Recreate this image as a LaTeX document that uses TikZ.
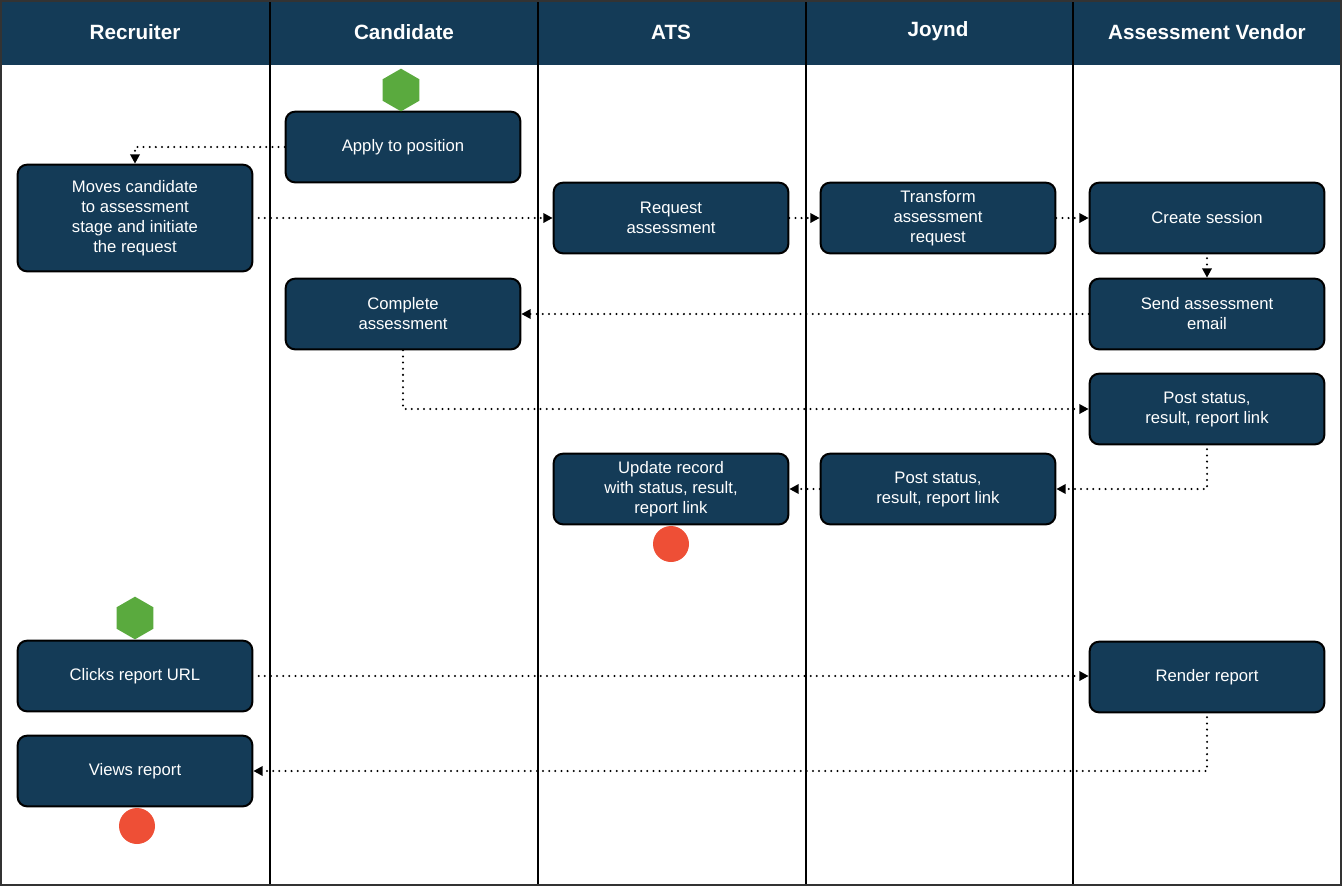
\documentclass[tikz,border=0pt]{standalone}
\usepackage{fontspec}
\setmainfont{Liberation Sans}
\usetikzlibrary{arrows.meta,shapes.geometric}
\definecolor{navy}{HTML}{143B57}
\definecolor{startgreen}{HTML}{5AAA3E}
\definecolor{endred}{HTML}{EE4F36}
\tikzset{
  box/.style={draw=black, line width=1.5pt, fill=navy, rounded corners=7pt,
    minimum width=176pt, minimum height=53pt, inner sep=0pt, align=center,
    text=white, font=\fontsize{12.5}{15}\selectfont},
  tallbox/.style={box, minimum height=80pt},
  lanehead/.style={text=white, font=\fontsize{15.5}{18}\selectfont\bfseries},
  starthex/.style={regular polygon, regular polygon sides=6, shape border rotate=30,
    fill=startgreen, draw=none, minimum size=32pt, inner sep=0pt},
  endcirc/.style={circle, fill=endred, draw=none, minimum size=27pt, inner sep=0pt},
  flow/.style={line width=1.7pt, line cap=round, dash pattern=on 0pt off 4.6pt,
    -{Triangle[length=7pt,width=7pt]}},
  laneline/.style={line width=1.4pt, draw=black},
}
\begin{document}
\begin{tikzpicture}[x=0.75pt,y=-0.75pt]
\useasboundingbox (0,0) rectangle (1342,886);
% header band
\fill[navy] (0,0) rectangle (1342,65);
% lane dividers
\foreach \xx in {270,538,806,1073} \draw[laneline] (\xx,0) -- (\xx,886);
% outer border
\draw[line width=1.5pt, draw=black!80] (1,1) rectangle (1341,885);
% headers
\node[lanehead] (hrec) at (135,32) {Recruiter};
\node[lanehead] (hcand) at (404,32) {Candidate};
\node[lanehead] (hats) at (671,32) {ATS};
\node[lanehead] (hjoy) at (938,31) {Joynd};
\node[lanehead] (hven) at (1207,32) {Assessment Vendor};
% boxes
\node[box] (apply) at (403,147) {Apply to position};
\node[tallbox] (moves) at (135,218) {Moves candidate\\to assessment\\stage and initiate\\the request};
\node[box] (request) at (671,218) {Request\\assessment};
\node[box] (transform) at (938,218) {Transform\\assessment\\request};
\node[box] (create) at (1207,218) {Create session};
\node[box] (send) at (1207,314) {Send assessment\\email};
\node[box] (complete) at (403,314) {Complete\\assessment};
\node[box] (postv) at (1207,409) {Post status,\\result, report link};
\node[box] (update) at (671,489) {Update record\\with status, result,\\report link};
\node[box] (postj) at (938,489) {Post status,\\result, report link};
\node[box] (clicks) at (135,676) {Clicks report URL};
\node[box] (render) at (1207,677) {Render report};
\node[box] (views) at (135,771) {Views report};
% start / end markers
\node[starthex] (start1) at (401,90) {};
\node[starthex] (start2) at (135,618) {};
\node[endcirc] (end1) at (671,544) {};
\node[endcirc] (end2) at (137,826) {};
% connectors
\draw[flow] (apply.west) -| (moves.north);
\draw[flow, shorten <=4pt] (moves.east) -- (request.west);
\draw[flow] (request.east) -- (transform.west);
\draw[flow] (transform.east) -- (create.west);
\draw[flow, shorten <=3pt] (create.south) -- (send.north);
\draw[flow] (send.west) -- (complete.east);
\draw[flow] (complete.south) |- (postv.west);
\draw[flow, shorten <=3pt] (postv.south) |- (postj.east);
\draw[flow] (postj.west) -- (update.east);
\draw[flow, shorten <=4pt] (clicks.east) -- (clicks.east -| render.west);
\draw[flow, shorten <=3pt] (render.south) |- (views.east);
\end{tikzpicture}
\end{document}
